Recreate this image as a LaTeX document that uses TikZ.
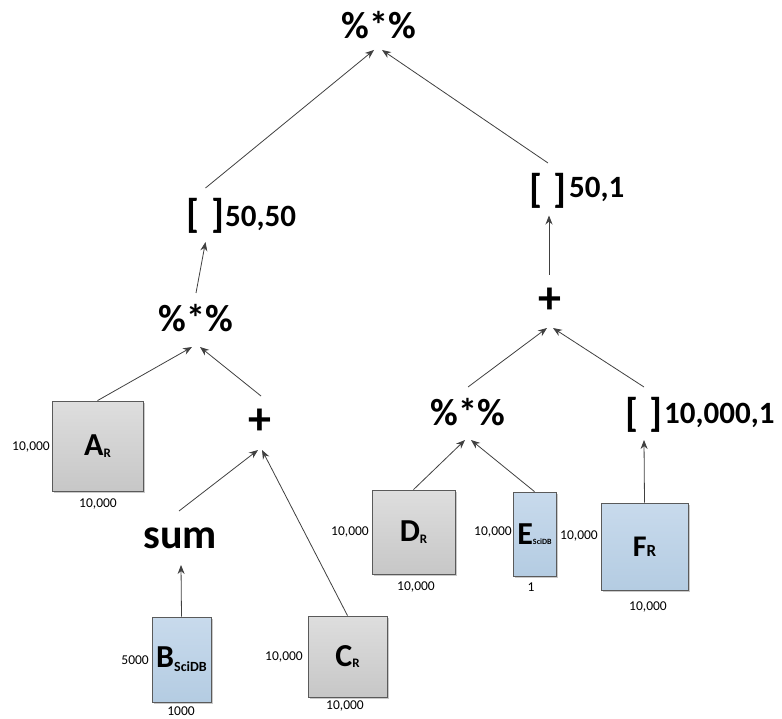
\documentclass[tikz,border=0pt]{standalone}
\usepackage{fontspec}
\setmainfont{Carlito}
\usetikzlibrary{arrows.meta,calc,shadows}
\definecolor{linegray}{HTML}{404040}
\definecolor{boxborder}{HTML}{5A5A5A}
\tikzset{
  op/.style={inner sep=0pt, font=\bfseries\fontsize{38}{38}\selectfont},
  plusop/.style={inner sep=0pt, font=\bfseries\fontsize{46}{46}\selectfont},
  sumop/.style={inner sep=0pt, font=\bfseries\fontsize{42}{42}\selectfont},
  brk/.style={inner sep=0pt, font=\bfseries\fontsize{40}{40}\selectfont},
  idxnum/.style={inner sep=0pt, anchor=west, font=\bfseries\fontsize{31}{31}\selectfont},
  dim/.style={inner sep=0pt, font=\fontsize{13.5}{14}\selectfont},
  graybox/.style={draw=boxborder, line width=0.8pt, top color=black!13, bottom color=black!22,
     inner sep=0pt, font=\bfseries, drop shadow={shadow xshift=2pt, shadow yshift=-2pt, fill=black!35, opacity=0.6}},
  bluebox/.style={draw=boxborder, line width=0.8pt, top color={rgb,255:red,200;green,218;blue,236}, bottom color={rgb,255:red,180;green,204;blue,226},
     inner sep=0pt, font=\bfseries, drop shadow={shadow xshift=2pt, shadow yshift=-2pt, fill=black!35, opacity=0.6}},
  arr/.style={draw=linegray, line width=0.8pt, -{Stealth[length=9pt,width=7pt]}},
}
\begin{document}
\begin{tikzpicture}[x=1pt,y=-1pt]
\useasboundingbox (0,0) rectangle (782,719);

% operator nodes
\node[op] (top) at (379,25) {\%*\%};
\node[brk] (idx1) at (205.5,216) {[\;]};
\node[idxnum] (idx1n) at (225,218) {50,50};
\node[op] (mmL) at (196,318) {\%*\%};
\node[plusop] (plusL) at (260,422) {+};
\node[sumop] (sum) at (180,538) {sum};
\node[brk] (idx2) at (548,190.5) {[\;]};
\node[idxnum] (idx2n) at (569,189) {50,1};
\node[plusop] (plusR) at (550,301) {+};
\node[op] (mmR) at (468,412) {\%*\%};
\node[brk] (idx3) at (644,415) {[\;]};
\node[idxnum] (idx3n) at (664,415) {10,000,1};

% matrices
\node[graybox, minimum width=91pt, minimum height=90pt] (A) at (97.5,446)
  {{\fontsize{32}{32}\selectfont A}\raisebox{-1.5pt}{\fontsize{13}{13}\selectfont R}};
\node[bluebox, minimum width=59pt, minimum height=85pt] (B) at (181.5,659.5)
  {{\fontsize{32}{32}\selectfont B}\raisebox{-4pt}{\fontsize{14}{14}\selectfont SciDB}};
\node[graybox, minimum width=79pt, minimum height=81pt] (C) at (347.5,656.5)
  {{\fontsize{32}{32}\selectfont C}\raisebox{-1.5pt}{\fontsize{13}{13}\selectfont R}};
\node[graybox, minimum width=83pt, minimum height=84pt] (D) at (413.5,532)
  {{\fontsize{32}{32}\selectfont D}\raisebox{-2pt}{\fontsize{13}{13}\selectfont R}};
\node[bluebox, minimum width=43pt, minimum height=84pt] (E) at (534.5,534)
  {{\fontsize{32}{32}\selectfont E}{\fontsize{8}{8}\selectfont SciDB}};
\node[bluebox, minimum width=87pt, minimum height=87pt] (F) at (644.5,546.5)
  {{\fontsize{30}{30}\selectfont F}{\fontsize{17}{17}\selectfont R}};

% dimension labels
\node[dim, anchor=east] (Al) at (50,447) {10,000};
\node[dim] (Ab) at (98,504) {10,000};
\node[dim, anchor=east] (Bl) at (149,660) {5000};
\node[dim] (Bb) at (181,711) {1000};
\node[dim, anchor=east] (Cl) at (303,657) {10,000};
\node[dim] (Cb) at (345,706) {10,000};
\node[dim, anchor=east] (Dl) at (369,532) {10,000};
\node[dim] (Db) at (416,587) {10,000};
\node[dim, anchor=east] (El) at (512,532) {10,000};
\node[dim] (Eb) at (531,587) {1};
\node[dim, anchor=east] (Fl) at (598,536) {10,000};
\node[dim] (Fb) at (648,607) {10,000};

% connectors
\draw[arr] ($(idx1)+(0,-28)$) -- ($(top)+(-5,25)$);
\draw[arr] ($(idx2)+(0,-27.5)$) -- ($(top)+(3,25)$);
\draw[arr] ($(mmL)+(0,-25)$) -- ($(idx1)+(0,26)$);
\draw[arr] (A.north) -- ($(mmL)+(-4,29)$);
\draw[arr] ($(plusL)+(1,-26)$) -- ($(mmL)+(4,29)$);
\draw[arr] ($(sum)+(-1,-27)$) -- ($(plusL)+(-2,28)$);
\draw[arr] (C.north) -- ($(plusL)+(2,28)$);
\draw[arr] (B.north) -- ($(sum)+(1,27)$);
\draw[arr] ($(plusR)+(-1,-26)$) -- ($(idx2)+(1,25)$);
\draw[arr] ($(mmR)+(0,-25)$) -- ($(plusR)+(-3,27)$);
\draw[arr] ($(idx3)+(0,-28)$) -- ($(plusR)+(3,27)$);
\draw[arr] (D.north) -- ($(mmR)+(-3,28)$);
\draw[arr] (E.north) -- ($(mmR)+(3,28)$);
\draw[arr] (F.north) -- ($(idx3)+(0,25)$);
\end{tikzpicture}
\end{document}
